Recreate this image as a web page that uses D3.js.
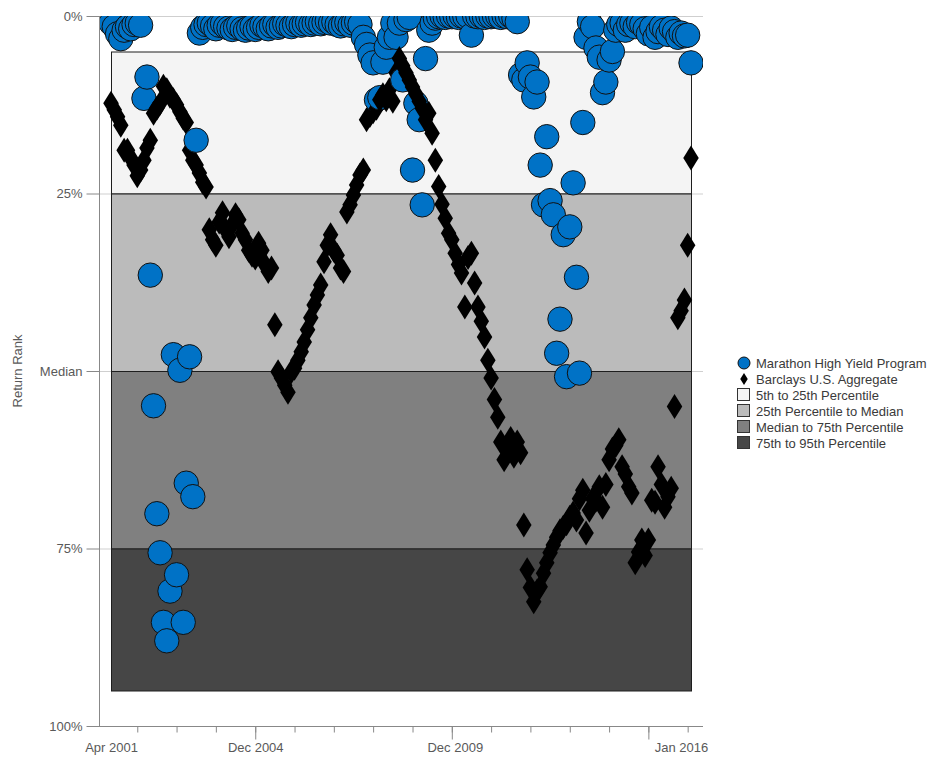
<!DOCTYPE html>
<html>
<head>
<meta charset="utf-8">
<script src="https://cdn.jsdelivr.net/npm/d3@7"></script>
<style>
  body { margin: 0; background: #fff; }
  svg { display: block; font-family: "Liberation Sans", Arial, sans-serif; }
</style>
</head>
<body>
<svg id="chart" width="930" height="758"></svg>
<script>
// Monthly observation dates, Apr 2001 through Jan 2016
const startMonth = new Date(2001, 3, 1);
const endMonth = new Date(2016, 0, 1);
const months = d3.timeMonth.range(startMonth, d3.timeMonth.offset(endMonth, 1));

// Return rank (percentile, 0 = best) of the fund, one value per month
const fundRank = [
  1.0, 1.5, 2.5, 3.2, 2.0, 1.5, 1.8, 1.2, 1.0, 1.3,
  11.6, 8.6, 36.5, 54.9, 70.1, 75.6, 85.4, 88.0, 81.0, 47.7,
  78.7, 49.9, 85.4, 65.8, 48.0, 67.7, 17.5, 2.4, 1.6, 1.2,
  1.0, 1.4, 1.8, 1.3, 1.1, 1.5, 1.7, 1.9, 1.6, 1.4,
  1.8, 2.0, 1.7, 1.5, 1.9, 1.6, 1.3, 1.5, 1.8, 1.4,
  1.2, 1.6, 1.4, 1.1, 1.3, 1.5, 1.2, 1.0, 1.3, 1.1,
  0.9, 1.2, 1.0, 0.8, 1.1, 0.9, 0.7, 1.0, 0.8, 1.2,
  1.4, 1.1, 0.9, 1.3, 1.0, 0.8, 1.2, 3.0, 4.0, 5.5,
  6.6, 11.8, 11.5, 6.5, 4.4, 3.0, 1.0, 3.0, 1.0, 9.0,
  0.5, 0.2, 21.7, 12.3, 14.6, 26.6, 6.0, 2.0, 1.0, 0.3,
  0.1, 0.0, 0.2, 0.0, 0.1, 0.0, 0.2, 0.0, 0.1, 0.0,
  2.7, 0.0, 0.1, 0.0, 0.2, 0.0, 0.1, 0.0, 0.0, 0.2,
  0.0, 0.1, 0.0, 0.3, 0.8, 8.3, 9.0, 6.6, 8.6, 11.4,
  9.3, 21.0, 26.6, 17.0, 26.0, 28.0, 47.5, 42.7, 30.8, 50.8,
  29.7, 23.5, 36.8, 50.3, 15.0, 3.0, 0.8, 1.5, 4.5, 5.8,
  10.8, 9.3, 6.2, 5.0, 2.0, 1.2, 1.0, 2.0, 1.2, 1.0,
  1.5, 0.9, 1.2, 1.8, 2.5, 1.6, 3.0, 2.2, 1.5, 2.0,
  2.6, 1.7, 2.2, 3.0, 2.4, 2.8, 2.7, 6.6
];

// Return rank of the benchmark index, one value per month
const benchRank = [
  12.3, 13.2, 14.2, 15.4, 18.9, 18.9, 20.0, 21.0, 22.5, 21.7,
  20.3, 18.6, 17.5, 13.7, 13.0, 12.3, 9.9, 10.4, 11.3, 11.8,
  12.5, 13.5, 14.4, 15.0, 18.9, 20.3, 21.0, 22.1, 23.4, 24.1,
  30.1, 31.5, 32.3, 29.0, 27.7, 30.1, 31.1, 29.4, 28.0, 28.7,
  30.6, 31.5, 33.0, 33.7, 34.1, 32.0, 33.0, 35.0, 36.0, 35.5,
  43.5, 50.1, 51.0, 52.0, 53.0, 50.1, 49.6, 48.5, 47.3, 45.9,
  44.2, 42.5, 40.7, 39.3, 37.9, 34.6, 32.3, 30.8, 33.0, 33.7,
  35.5, 36.0, 27.6, 26.6, 25.2, 23.8, 22.4, 21.7, 14.6, 14.0,
  13.5, 13.0, 11.8, 11.1, 11.8, 10.4, 12.0, 8.0, 6.0, 7.0,
  8.0, 9.0, 10.0, 11.0, 12.0, 13.0, 14.6, 13.7, 16.5, 20.3,
  24.0, 26.5, 28.5, 30.6, 31.5, 33.4, 35.0, 36.2, 41.0, 34.0,
  33.4, 37.6, 41.0, 43.0, 45.2, 48.5, 51.0, 54.0, 56.5, 60.0,
  62.5, 61.0, 59.5, 62.0, 60.0, 61.5, 71.7, 78.0, 80.5, 82.5,
  81.0, 80.4, 78.5, 77.0, 75.6, 74.5, 73.4, 72.5, 72.0, 71.5,
  70.6, 70.0, 71.0, 68.0, 66.8, 72.8, 69.6, 68.0, 68.2, 66.3,
  69.2, 66.0, 62.5, 61.0, 60.5, 59.7, 63.5, 64.5, 66.3, 67.2,
  77.0, 75.5, 73.8, 76.0, 73.8, 68.2, 68.5, 63.5, 66.0, 69.2,
  67.7, 66.5, 55.0, 42.5, 41.5, 40.0, 32.3, 20.0
];

// Percentile bands of the peer universe
const bandNames = ["5th to 25th Percentile", "25th Percentile to Median", "Median to 75th Percentile", "75th to 95th Percentile"];
const bandFrom = [5, 25, 50, 75];
const bandTo = [25, 50, 75, 95];
const bandColors = ["#f4f4f4", "#bbbbbb", "#808080", "#464646"];

const seriesNames = ["Marathon High Yield Program", "Barclays U.S. Aggregate"];
const fundColor = "#0072c6";

// Axis ticks and labels
const yTicks = [0, 25, 50, 75, 100];
const yTickLabels = ["0%", "25%", "Median", "75%", "100%"];
const xMinorTicks = d3.range(2001, 2016).map(yr => new Date(yr, 11, 1));
const xMajorTicks = [new Date(2004, 11, 1), new Date(2009, 11, 1), new Date(2014, 11, 1)];
const xLabelDates = [new Date(2001, 3, 1), new Date(2004, 11, 1), new Date(2009, 11, 1), new Date(2016, 0, 1)];

// ---------------------------------------------------------------
const svg = d3.select("#chart");
const plot = { left: 99, right: 703, top: 16, bottom: 726 };

const x = d3.scaleTime().domain([startMonth, endMonth]).range([111, 691]);
const y = d3.scaleLinear().domain([0, 100]).range([plot.top, plot.bottom]);

svg.append("defs").append("clipPath").attr("id", "plotClip")
  .append("rect")
  .attr("x", plot.left).attr("y", plot.top)
  .attr("width", plot.right - plot.left).attr("height", plot.bottom - plot.top);

// Horizontal gridlines
svg.append("g").selectAll("line").data(yTicks).join("line")
  .attr("x1", plot.left).attr("x2", plot.right)
  .attr("y1", d => y(d) + 0.5).attr("y2", d => y(d) + 0.5)
  .attr("stroke", "#cfcfcf").attr("stroke-width", 1);

// Percentile bands
svg.append("g").selectAll("rect").data(bandNames).join("rect")
  .attr("x", x(startMonth) + 0.5)
  .attr("y", (d, i) => y(bandFrom[i]) + 0.5)
  .attr("width", x(endMonth) - x(startMonth))
  .attr("height", (d, i) => y(bandTo[i]) - y(bandFrom[i]))
  .attr("fill", (d, i) => bandColors[i])
  .attr("stroke", "#1e1e1e").attr("stroke-width", 1);

// Tall narrow diamond symbol
const tallDiamond = {
  draw(ctx, size) {
    const h = Math.sqrt(size);
    const w = h * 0.62;
    ctx.moveTo(0, -h); ctx.lineTo(w, 0); ctx.lineTo(0, h); ctx.lineTo(-w, 0); ctx.closePath();
  }
};

// Monthly marks: fund circle, then benchmark diamond
const rows = months.map((d, i) => ({ date: d, fund: fundRank[i], bench: benchRank[i] }));
const marks = svg.append("g").attr("clip-path", "url(#plotClip)")
  .selectAll("g").data(rows).join("g");

marks.append("circle")
  .attr("cx", d => x(d.date)).attr("cy", d => y(d.fund)).attr("r", 12.2)
  .attr("fill", fundColor).attr("stroke", "#111").attr("stroke-width", 1);

marks.append("path")
  .attr("transform", d => `translate(${x(d.date)},${y(d.bench)})`)
  .attr("d", d3.symbol().type(tallDiamond).size(12.5 * 12.5))
  .attr("fill", "#000");

// Y axis
const yAxis = d3.axisLeft(y).tickValues(yTicks).tickFormat((d, i) => yTickLabels[i])
  .tickSize(13).tickPadding(4);
const gy = svg.append("g").attr("transform", `translate(${plot.left + 0.5},0)`).call(yAxis);
gy.select(".domain").remove();
gy.selectAll(".tick line").attr("stroke", "#888");
gy.selectAll(".tick text").attr("fill", "#595959").attr("font-size", 13).attr("font-family", "Liberation Sans, Arial, sans-serif");
svg.append("line")
  .attr("x1", plot.left + 0.5).attr("x2", plot.left + 0.5)
  .attr("y1", plot.top).attr("y2", plot.bottom + 0.5)
  .attr("stroke", "#888");

svg.append("text")
  .attr("transform", `translate(22,${(plot.top + plot.bottom) / 2}) rotate(-90)`)
  .attr("text-anchor", "middle")
  .attr("fill", "#595959").attr("font-size", 13)
  .text("Return Rank");

// X axis
svg.append("line")
  .attr("x1", plot.left).attr("x2", plot.right)
  .attr("y1", plot.bottom + 0.5).attr("y2", plot.bottom + 0.5)
  .attr("stroke", "#888");

const gxMinor = svg.append("g").attr("transform", `translate(0,${plot.bottom + 0.5})`)
  .call(d3.axisBottom(x).tickValues(xMinorTicks).tickSize(6).tickFormat(""));
const gxMajor = svg.append("g").attr("transform", `translate(0,${plot.bottom + 0.5})`)
  .call(d3.axisBottom(x).tickValues(xMajorTicks).tickSize(13).tickFormat(""));
[gxMinor, gxMajor].forEach(g => {
  g.select(".domain").remove();
  g.selectAll(".tick line").attr("stroke", "#888");
});

const labelFormat = d3.timeFormat("%b %Y");
const gxLabels = svg.append("g").attr("transform", `translate(0,${plot.bottom})`)
  .call(d3.axisBottom(x).tickValues(xLabelDates).tickSize(0).tickPadding(17).tickFormat(labelFormat));
gxLabels.select(".domain").remove();
gxLabels.selectAll(".tick text")
  .attr("fill", "#595959").attr("font-size", 13).attr("font-family", "Liberation Sans, Arial, sans-serif")
  .attr("dx", (d, i) => i === xLabelDates.length - 1 ? -10 : (i === 2 ? 3 : 0));

// Legend
const legend = svg.append("g").attr("transform", "translate(744,363)");
const legendRows = seriesNames.concat(bandNames);
const li = legend.selectAll("g").data(legendRows).join("g")
  .attr("transform", (d, i) => `translate(0,${i * 16})`);

li.filter((d, i) => i === 0).append("circle")
  .attr("r", 6).attr("fill", fundColor).attr("stroke", "#111");
li.filter((d, i) => i === 1).append("path")
  .attr("d", d3.symbol().type(tallDiamond).size(36)).attr("fill", "#000");
li.filter((d, i) => i >= 2).append("rect")
  .attr("x", -6.5).attr("y", -6.5).attr("width", 12).attr("height", 12)
  .attr("fill", (d, i) => bandColors[bandNames.indexOf(d)])
  .attr("stroke", "#333");

li.append("text")
  .attr("x", 12).attr("dy", "0.36em")
  .attr("fill", "#3a3a3a").attr("font-size", 13)
  .text(d => d);
</script>
</body>
</html>
